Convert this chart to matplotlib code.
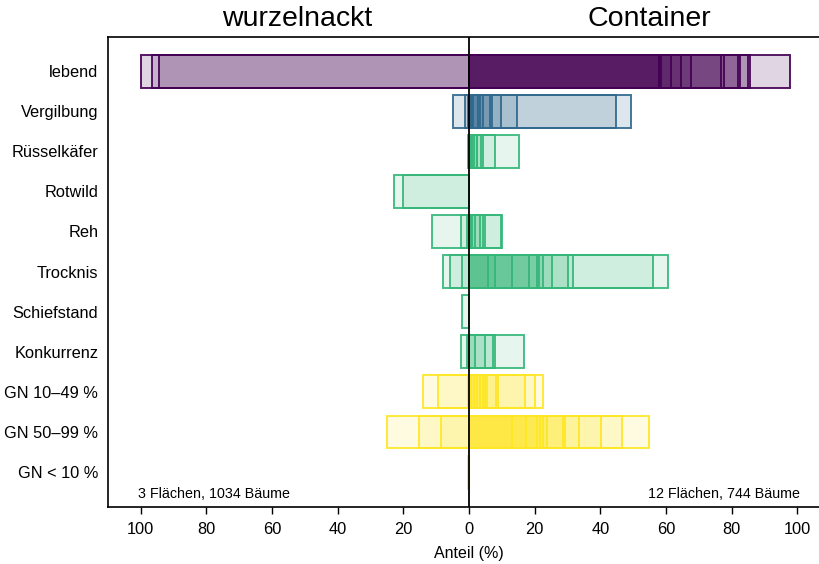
import numpy as np
import matplotlib.pyplot as plt
import matplotlib as mpl

plt.rcParams['font.family'] = ['Liberation Sans', 'DejaVu Sans']

# Kategorien von oben nach unten
kategorien = ['lebend', 'Vergilbung', 'Rüsselkäfer', 'Rotwild', 'Reh', 'Trocknis',
              'Schiefstand', 'Konkurrenz', 'GN 10\u201349 %', 'GN 50\u201399 %', 'GN < 10 %']
farbgruppe = [0, 1, 2, 2, 2, 2, 2, 2, 3, 3, 3]
farben = ['#440154', '#31688E', '#35B779', '#FDE725']
deckkraft = [0.165, 0.16, 0.12, 0.14]  # Füllung je Farbgruppe

# Anteile (%) je Fläche: wurzelnackt (3 Flächen)
wurzelnackt = [
    [100.0, 96.7, 94.4],
    [4.8, 1.2, 0.3],
    [0.2, 0.0, 0.0],
    [22.9, 20.0, 0.0],
    [11.3, 2.5, 0.7],
    [7.8, 5.8, 2.2],
    [2.2, 0.0, 0.0],
    [2.5, 0.5, 0.0],
    [13.9, 9.4, 0.2],
    [25.1, 15.2, 8.5],
    [0.3, 0.0, 0.0],
]

# Anteile (%) je Fläche: Container (12 Flächen)
container = [
    [58.0, 58.5, 61.6, 64.6, 67.5, 76.8, 77.6, 81.9, 82.7, 84.9, 85.7, 97.9],
    [0.3, 0.8, 1.3, 2.6, 3.5, 4.3, 6.4, 6.9, 9.8, 14.5, 44.7, 49.3],
    [0.0, 0.0, 0.0, 0.5, 1.0, 1.5, 2.3, 2.3, 3.7, 4.4, 7.9, 15.2],
    [0.0, 0.0, 0.0, 0.0, 0.0, 0.0, 0.0, 0.0, 0.0, 0.0, 0.0, 0.0],
    [0.0, 0.0, 0.0, 0.0, 0.5, 1.0, 1.8, 3.4, 4.2, 4.9, 9.7, 10.2],
    [5.9, 7.9, 13.0, 18.4, 20.6, 21.3, 22.7, 25.2, 30.3, 31.6, 56.0, 60.6],
    [0.0, 0.0, 0.0, 0.0, 0.0, 0.0, 0.0, 0.0, 0.0, 0.0, 0.0, 0.0],
    [0.0, 0.0, 0.0, 0.0, 0.0, 0.0, 0.0, 1.8, 4.9, 7.2, 7.9, 16.9],
    [0.5, 1.5, 2.3, 3.4, 4.4, 4.8, 5.6, 8.2, 8.9, 17.1, 20.1, 22.5],
    [13.0, 17.4, 20.6, 21.5, 22.5, 23.7, 28.6, 29.1, 33.6, 40.1, 46.5, 55.0],
    [0.0, 0.0, 0.0, 0.0, 0.0, 0.0, 0.0, 0.0, 0.0, 0.0, 0.0, 0.0],
]

n_wn = 1034
n_co = 744

fig = plt.figure(figsize=(8.2, 5.64), dpi=100)
ax = fig.add_axes([108 / 820, 1 - 507 / 564, 722 / 820, (507 - 37) / 564])

hoehe = 0.82
for i, kat in enumerate(kategorien):
    g = farbgruppe[i]
    fill = mpl.colors.to_rgba(farben[g], deckkraft[g])
    kante = mpl.colors.to_rgba(farben[g], 0.9)
    for w in wurzelnackt[i]:
        ax.barh(i, -w, height=hoehe, left=0, color=fill, edgecolor=kante, linewidth=1.4)
    for c in container[i]:
        ax.barh(i, c, height=hoehe, left=0, color=fill, edgecolor=kante, linewidth=1.4)

ax.axvline(0, color='black', linewidth=1.3, zorder=5)

ax.set_xlim(-110, 110)
ax.set_ylim(len(kategorien) - 1 + 0.87, -0.85)
ax.set_yticks(range(len(kategorien)))
ax.set_yticklabels(kategorien, fontsize=11.8)
ax.tick_params(axis='y', length=0, pad=7)

xt = np.arange(-100, 101, 20)
ax.set_xticks(xt)
ax.set_xticklabels([str(abs(v)) for v in xt], fontsize=11.8)
ax.tick_params(axis='x', length=5, width=1, pad=6)
ax.set_xlabel('Anteil (%)', fontsize=11.5, labelpad=6)

for s in ax.spines.values():
    s.set_linewidth(1.2)
ax.spines['right'].set_visible(False)

ax.text(-52.5, -0.98, 'wurzelnackt', ha='center', va='bottom', fontsize=20.5)
ax.text(55, -0.98, 'Container', ha='center', va='bottom', fontsize=20.5)

ax.text(-101, 10.55, '3 Flächen, %d Bäume' % n_wn, ha='left', va='center', fontsize=10.3)
ax.text(101, 10.55, '12 Flächen, %d Bäume' % n_co, ha='right', va='center', fontsize=10.3)

fig.savefig('out.png', dpi=100)
